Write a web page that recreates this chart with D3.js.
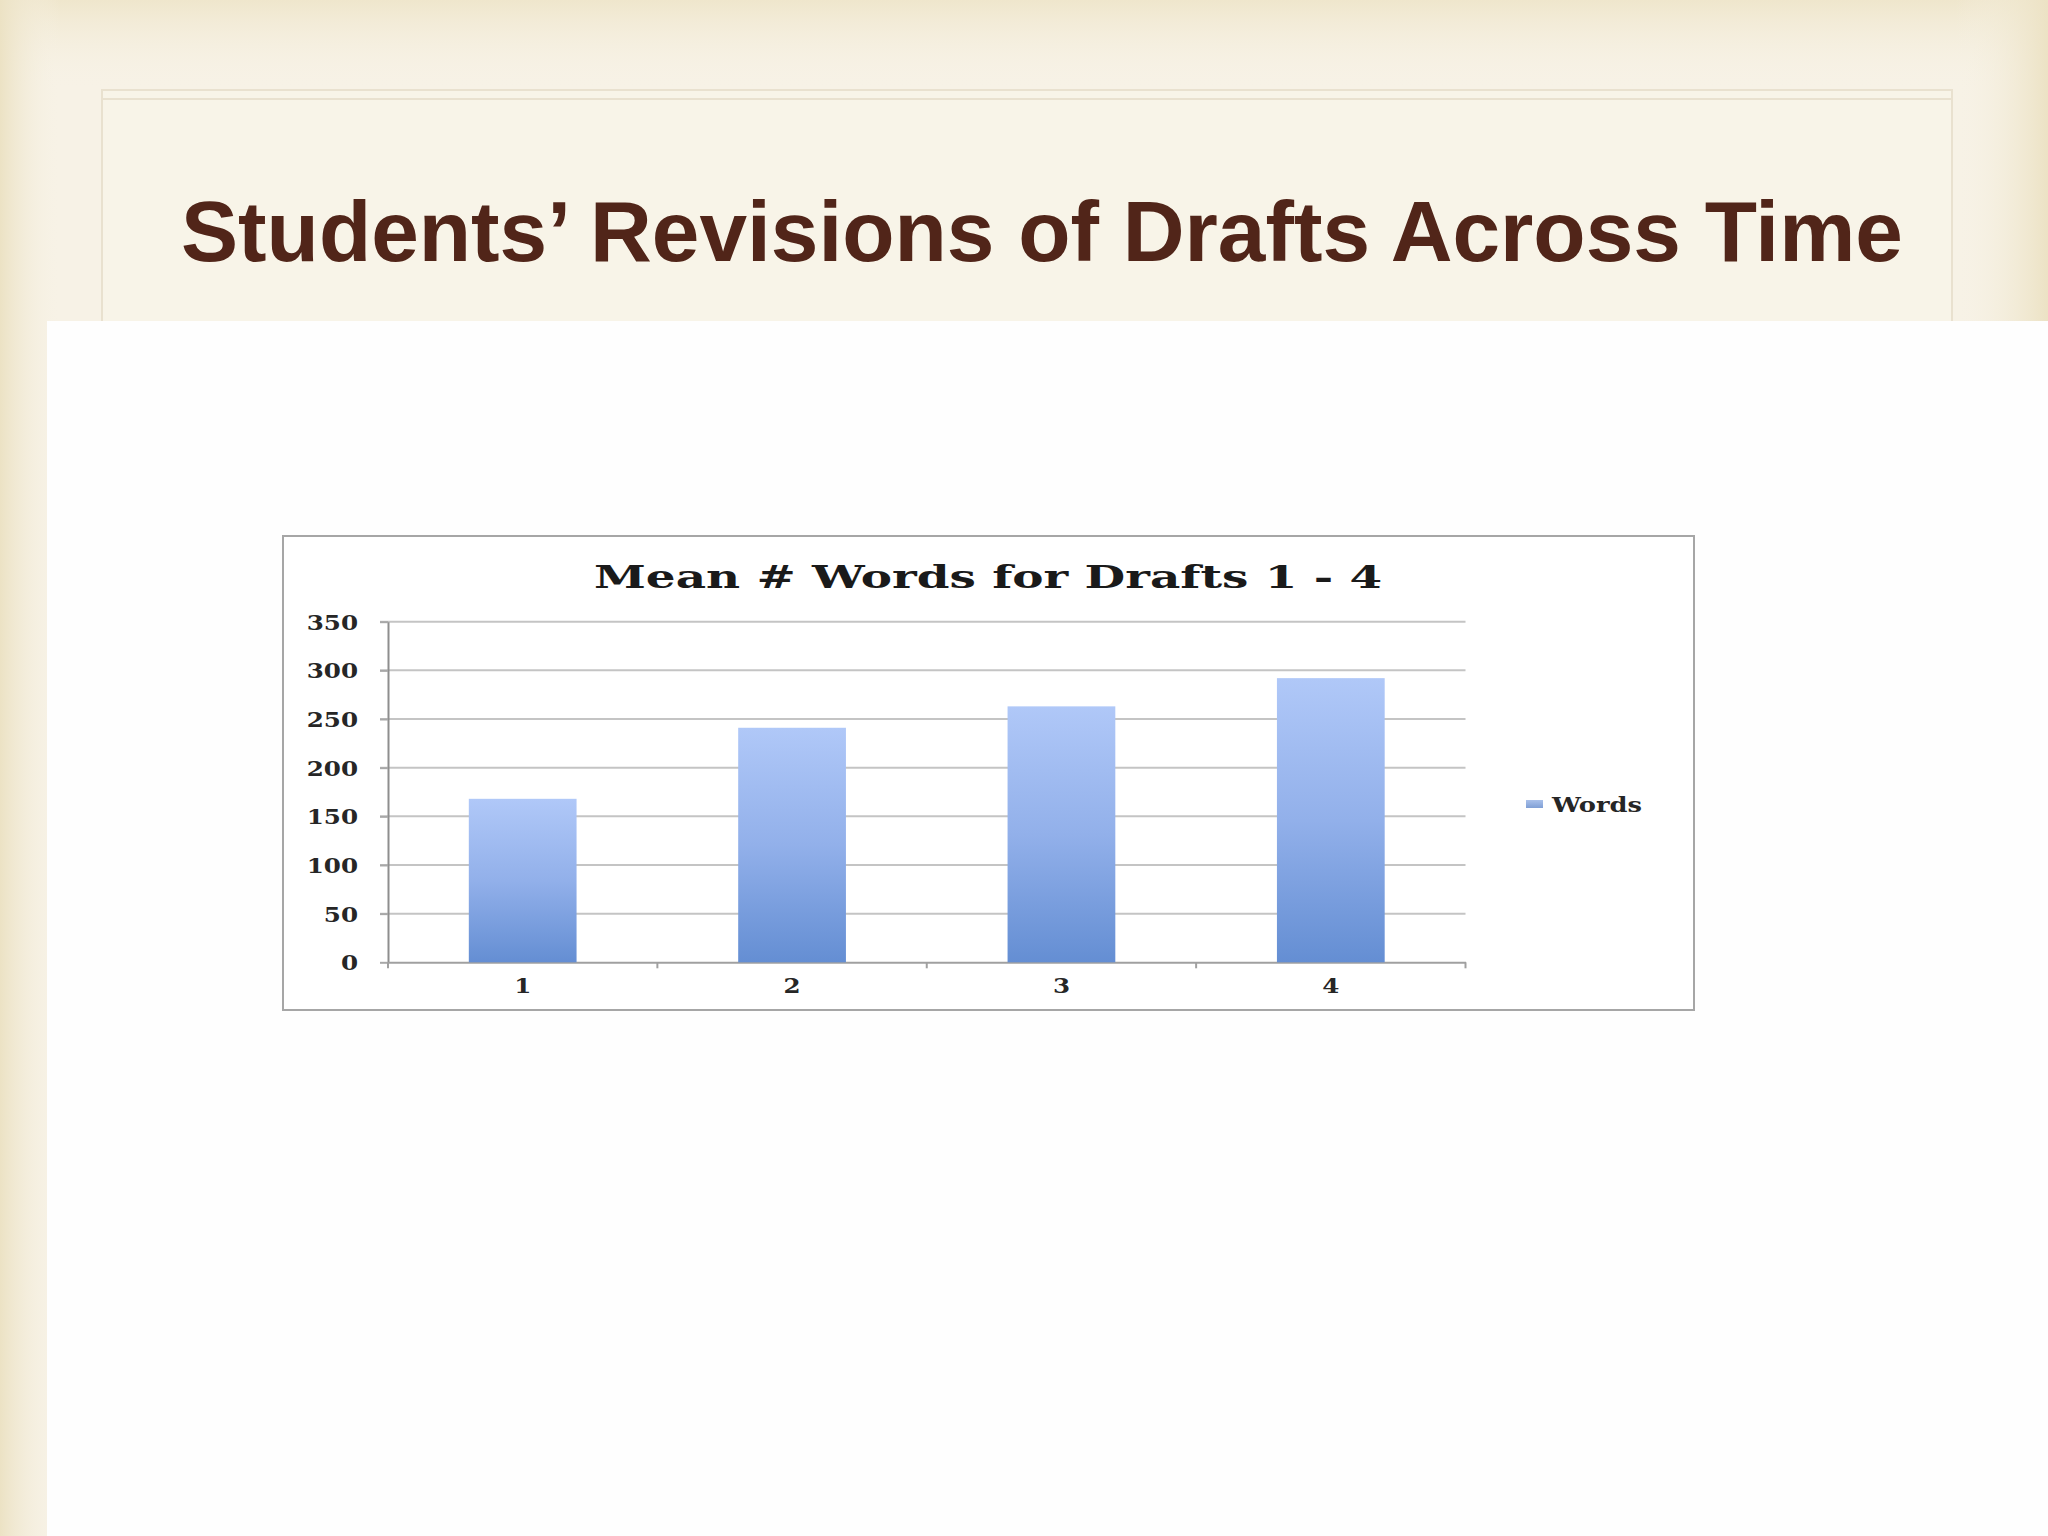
<!DOCTYPE html>
<html>
<head>
<meta charset="utf-8">
<script src="https://cdn.jsdelivr.net/npm/d3@7"></script>
<style>
  html, body { margin: 0; padding: 0; background: #ffffff; }
  svg { display: block; }
</style>
</head>
<body>
<svg id="slide"></svg>
<script>
let slideTitle = "Students\u2019 Revisions of Drafts Across Time";
let chartTitle = "Mean # Words for Drafts 1 - 4";
let seriesName = "Words";

let drafts = ["1", "2", "3", "4"];
let meanWords = [168, 241, 263, 292];
let yTicks = [0, 50, 100, 150, 200, 250, 300, 350];

function getConfig() {
  let width = 2048;
  let height = 1536;
  let svg = d3.select("#slide")
    .attr("width", width)
    .attr("height", height);

  // chart box and plot area
  let box = { x: 283, y: 536, w: 1411, h: 474 };
  let plot = { left: 388, right: 1465.5, top: 621.7, bottom: 962.3 };
  let stretch = 1.2; // chart text in the picture is horizontally stretched
  let chartFont = "'DejaVu Serif', serif";

  return { width, height, svg, box, plot, stretch, chartFont };
}

function getScales(config) {
  let { plot } = config;
  let x = d3.scaleBand()
    .domain(drafts)
    .range([plot.left, plot.right])
    .paddingInner(0.6)
    .paddingOuter(0.3);
  let y = d3.scaleLinear()
    .domain([0, 350])
    .range([plot.bottom, plot.top]);
  return { x, y };
}

function drawBackground(config) {
  let { svg, width, height } = config;
  let defs = svg.append("defs");

  let leftGrad = defs.append("linearGradient").attr("id", "leftEdge")
    .attr("x1", 0).attr("x2", 1).attr("y1", 0).attr("y2", 0);
  leftGrad.append("stop").attr("offset", 0).attr("stop-color", "#ece2c4");
  leftGrad.append("stop").attr("offset", 1).attr("stop-color", "#f7f2e6").attr("stop-opacity", 0);

  let rightGrad = defs.append("linearGradient").attr("id", "rightEdge")
    .attr("x1", 0).attr("x2", 1).attr("y1", 0).attr("y2", 0);
  rightGrad.append("stop").attr("offset", 0).attr("stop-color", "#f7f2e6").attr("stop-opacity", 0);
  rightGrad.append("stop").attr("offset", 1).attr("stop-color", "#ece2c4");

  let topGrad = defs.append("linearGradient").attr("id", "topEdge")
    .attr("x1", 0).attr("x2", 0).attr("y1", 0).attr("y2", 1);
  topGrad.append("stop").attr("offset", 0).attr("stop-color", "#efe6cc");
  topGrad.append("stop").attr("offset", 1).attr("stop-color", "#f7f2e6").attr("stop-opacity", 0);

  let barGrad = defs.append("linearGradient").attr("id", "barFill")
    .attr("x1", 0).attr("x2", 0).attr("y1", 0).attr("y2", 1);
  barGrad.append("stop").attr("offset", 0).attr("stop-color", "#b0c8f8");
  barGrad.append("stop").attr("offset", 0.5).attr("stop-color", "#92b0ea");
  barGrad.append("stop").attr("offset", 1).attr("stop-color", "#648ed3");

  let legGrad = defs.append("linearGradient").attr("id", "legFill")
    .attr("x1", 0).attr("x2", 0).attr("y1", 0).attr("y2", 1);
  legGrad.append("stop").attr("offset", 0).attr("stop-color", "#a9c0ea");
  legGrad.append("stop").attr("offset", 1).attr("stop-color", "#7f9fd5");

  // base beige
  svg.append("rect")
    .attr("x", 0).attr("y", 0)
    .attr("width", width).attr("height", height)
    .attr("fill", "#f7f2e6");
  svg.append("rect")
    .attr("x", 0).attr("y", 0)
    .attr("width", width).attr("height", 90)
    .attr("fill", "url(#topEdge)");
  svg.append("rect")
    .attr("x", 0).attr("y", 0)
    .attr("width", 60).attr("height", height)
    .attr("fill", "url(#leftEdge)");
  svg.append("rect")
    .attr("x", 1955).attr("y", 0)
    .attr("width", 93).attr("height", height)
    .attr("fill", "url(#rightEdge)");

  // title frame (double line at top)
  svg.append("rect")
    .attr("x", 102).attr("y", 90)
    .attr("width", 1850).attr("height", 260)
    .attr("fill", "#f8f4e8")
    .attr("stroke", "#e9e1cf")
    .attr("stroke-width", 2);
  svg.append("line")
    .attr("x1", 102).attr("x2", 1952)
    .attr("y1", 99).attr("y2", 99)
    .attr("stroke", "#e9e1cf")
    .attr("stroke-width", 2);

  // white content panel
  svg.append("rect")
    .attr("x", 47).attr("y", 321)
    .attr("width", width - 47).attr("height", height - 321)
    .attr("fill", "#fefefe");

  svg.append("text")
    .attr("x", 181)
    .attr("y", 261)
    .attr("font-family", "'Liberation Sans', Arial, sans-serif")
    .attr("font-weight", "bold")
    .attr("font-size", 85.6)
    .attr("fill", "#512519")
    .text(slideTitle);
}

function drawChart(config, scales) {
  let { svg, box, plot, stretch, chartFont } = config;
  let { x, y } = scales;

  // chart box
  svg.append("rect")
    .attr("x", box.x).attr("y", box.y)
    .attr("width", box.w).attr("height", box.h)
    .attr("fill", "#ffffff")
    .attr("stroke", "#a6a6a6")
    .attr("stroke-width", 2);

  svg.append("text")
    .attr("x", 988)
    .attr("y", 588)
    .attr("text-anchor", "middle")
    .attr("font-family", chartFont)
    .attr("font-weight", "bold")
    .attr("font-size", 31)
    .attr("textLength", 788)
    .attr("lengthAdjust", "spacingAndGlyphs")
    .attr("fill", "#1a1a1a")
    .text(chartTitle);

  // gridlines
  svg.append("g")
    .selectAll("line")
    .data(yTicks.filter(d => d > 0))
    .enter()
    .append("line")
    .attr("x1", plot.left - 8)
    .attr("x2", plot.right)
    .attr("y1", d => y(d))
    .attr("y2", d => y(d))
    .attr("stroke", "#c4c4c4")
    .attr("stroke-width", 2);

  // y axis
  let yAxis = svg.append("g")
    .attr("transform", `translate(${plot.left},0)`)
    .call(d3.axisLeft(y).tickValues(yTicks).tickSize(8).tickSizeOuter(0));
  yAxis.select(".domain").attr("stroke", "#8e8e8e").attr("stroke-width", 2);
  yAxis.selectAll(".tick line").attr("stroke", "#a8a8a8").attr("stroke-width", 2);
  yAxis.selectAll(".tick text")
    .attr("x", -30 / stretch)
    .attr("dy", "0.36em")
    .attr("transform", `scale(${stretch},1)`)
    .attr("font-family", chartFont)
    .attr("font-weight", "bold")
    .attr("font-size", 20.5)
    .attr("fill", "#262626");

  // x axis
  let xAxis = svg.append("g")
    .attr("transform", `translate(0,${plot.bottom})`)
    .call(d3.axisBottom(x).tickSize(0).tickSizeOuter(0));
  xAxis.select(".domain").attr("stroke", "#a0a0a0").attr("stroke-width", 2);
  xAxis.selectAll(".tick text")
    .attr("y", 0)
    .attr("dy", 0)
    .attr("transform", `translate(0,31) scale(${stretch},1)`)
    .attr("font-family", chartFont)
    .attr("font-weight", "bold")
    .attr("font-size", 20.5)
    .attr("fill", "#262626");

  // category boundary ticks
  let bounds = d3.range(drafts.length + 1).map(i => plot.left + i * x.step());
  xAxis.selectAll(".bound")
    .data(bounds)
    .enter()
    .append("line")
    .attr("class", "bound")
    .attr("x1", d => d).attr("x2", d => d)
    .attr("y1", 0).attr("y2", 6)
    .attr("stroke", "#a0a0a0")
    .attr("stroke-width", 2);

  // bars
  svg.append("g")
    .selectAll("rect")
    .data(meanWords)
    .enter()
    .append("rect")
    .attr("x", (d, i) => x(drafts[i]))
    .attr("y", d => y(d))
    .attr("width", x.bandwidth())
    .attr("height", d => y(0) - y(d))
    .attr("fill", "url(#barFill)");

  // legend
  svg.append("rect")
    .attr("x", 1526).attr("y", 800)
    .attr("width", 17).attr("height", 8)
    .attr("fill", "url(#legFill)");
  svg.append("text")
    .attr("x", 1552)
    .attr("y", 812)
    .attr("font-family", chartFont)
    .attr("font-weight", "bold")
    .attr("font-size", 20.5)
    .attr("textLength", 90)
    .attr("lengthAdjust", "spacingAndGlyphs")
    .attr("fill", "#262626")
    .text(seriesName);
}

let config = getConfig();
let scales = getScales(config);
drawBackground(config);
drawChart(config, scales);
</script>
</body>
</html>
